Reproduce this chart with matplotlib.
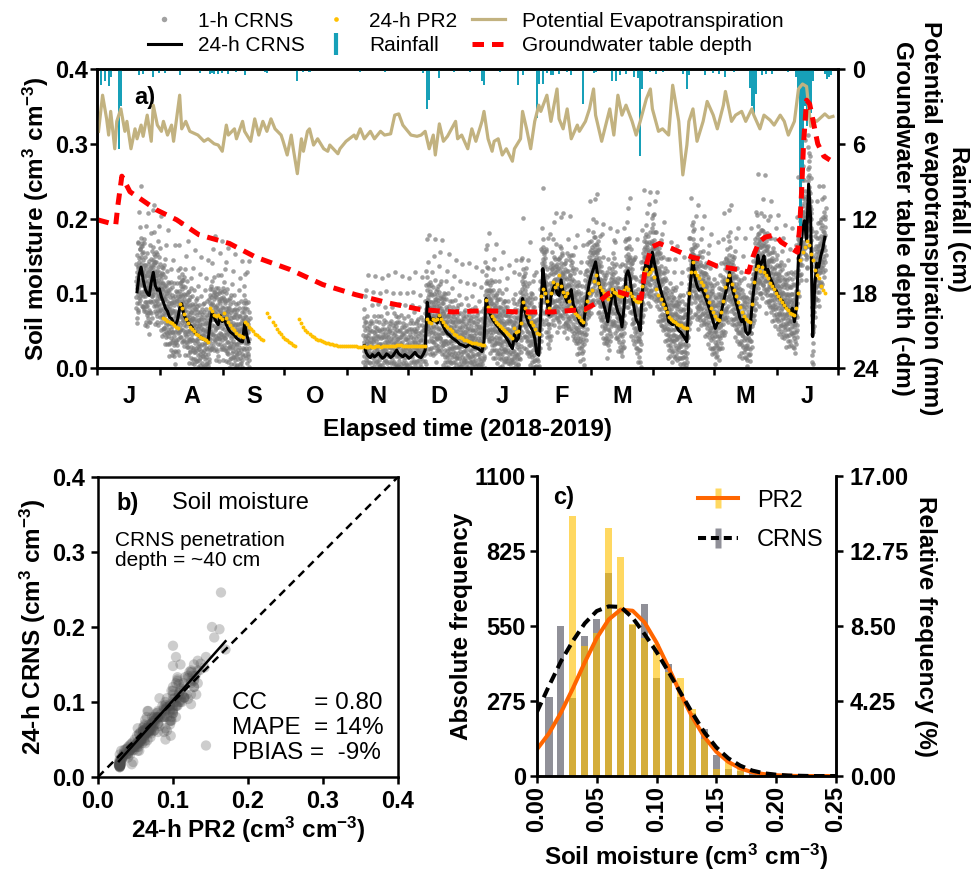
import numpy as np
import pandas as pd
import matplotlib
matplotlib.use("Agg")
import matplotlib.pyplot as plt
import matplotlib.dates as mdates
from matplotlib.lines import Line2D
from matplotlib.ticker import FixedLocator, FixedFormatter, NullFormatter, FormatStrFormatter
from matplotlib.legend_handler import HandlerTuple

plt.rcParams['font.family'] = ['Liberation Sans', 'DejaVu Sans']
plt.rcParams['font.weight'] = 'bold'
plt.rcParams['mathtext.fontset'] = 'custom'
plt.rcParams['mathtext.rm'] = 'Liberation Sans'
plt.rcParams['mathtext.bf'] = 'Liberation Sans:bold'
plt.rcParams['mathtext.default'] = 'regular'

# ---------------- data ----------------
START = "2018-07-01"
END = "2019-07-01"
month_labels = ['J', 'A', 'S', 'O', 'N', 'D', 'J', 'F', 'M', 'A', 'M', 'J']

# 24-h CRNS soil moisture (days since 1 July 2018)
crns24_a_start = 19
crns24_a = [0.102, 0.125, 0.135, 0.118, 0.106, 0.100, 0.097, 0.115, 0.128, 0.110,
            0.104, 0.106, 0.095, 0.088, 0.080, 0.076, 0.068, 0.066, 0.060, 0.057,
            0.065, 0.080, 0.086, 0.072, 0.066, 0.062, 0.058, 0.055, 0.050, 0.046,
            0.044, 0.042, 0.040, 0.038, 0.037, 0.036, 0.060, 0.075, 0.068, 0.062,
            0.058, 0.070, 0.062, 0.066, 0.058, 0.052, 0.048, 0.046, 0.044, 0.040,
            0.038, 0.036, 0.035, 0.060, 0.045, 0.035]
crns24_b_start = 131
crns24_b = [0.030, 0.020, 0.016, 0.014, 0.018, 0.015, 0.017, 0.020, 0.016, 0.013,
            0.015, 0.019, 0.017, 0.014, 0.016, 0.020, 0.024, 0.019, 0.017, 0.015,
            0.018, 0.016, 0.013, 0.015, 0.018, 0.021, 0.017, 0.015, 0.014, 0.018,
            0.024, 0.088, 0.070, 0.062, 0.066, 0.064, 0.060, 0.071, 0.063, 0.055,
            0.050, 0.046, 0.044, 0.041, 0.039, 0.037, 0.035, 0.032, 0.031, 0.030,
            0.028, 0.030, 0.032, 0.030, 0.028, 0.027, 0.026, 0.024, 0.022, 0.035,
            0.093, 0.080, 0.072, 0.066, 0.062, 0.058, 0.055, 0.050, 0.047, 0.044,
            0.040, 0.036, 0.030, 0.026, 0.045, 0.036, 0.040, 0.060, 0.093, 0.078,
            0.068, 0.060, 0.055, 0.050, 0.040, 0.020, 0.017, 0.075, 0.133, 0.110,
            0.090, 0.071, 0.095, 0.106, 0.112, 0.100, 0.097, 0.118, 0.100, 0.095,
            0.088, 0.096, 0.105, 0.085, 0.078, 0.070, 0.062, 0.058, 0.056, 0.080,
            0.100, 0.115, 0.125, 0.133, 0.142, 0.125, 0.110, 0.095, 0.085, 0.075,
            0.062, 0.080, 0.095, 0.105, 0.085, 0.075, 0.070, 0.055, 0.080, 0.124,
            0.130, 0.120, 0.095, 0.080, 0.065, 0.060, 0.050, 0.100, 0.130, 0.142,
            0.135, 0.128, 0.155, 0.140, 0.128, 0.115, 0.105, 0.095, 0.088, 0.080,
            0.062, 0.060, 0.058, 0.062, 0.055, 0.050, 0.048, 0.044, 0.040, 0.035,
            0.090, 0.120, 0.146, 0.120, 0.110, 0.104, 0.106, 0.103, 0.095, 0.088,
            0.080, 0.071, 0.062, 0.053, 0.060, 0.062, 0.075, 0.088, 0.100, 0.110,
            0.128, 0.110, 0.100, 0.090, 0.080, 0.068, 0.062, 0.066, 0.049, 0.045,
            0.048, 0.080, 0.106, 0.125, 0.151, 0.135, 0.142, 0.150, 0.125, 0.132,
            0.120, 0.115, 0.106, 0.104, 0.097, 0.092, 0.090, 0.084, 0.080, 0.078,
            0.075, 0.080, 0.062, 0.080, 0.148, 0.160, 0.186, 0.197, 0.170, 0.246,
            0.200, 0.042, 0.110, 0.140, 0.135, 0.150, 0.160, 0.175]

# hourly CRNS deviations from the 24-h value (read as typical scatter)
crns1h_dev = [0.012, -0.018, 0.031, -0.006, 0.022, -0.029, 0.004, 0.041, -0.012, -0.035,
              0.017, 0.008, -0.022, 0.055, -0.003, 0.026, -0.015, -0.040, 0.010, 0.035,
              -0.008, 0.019, -0.026, 0.002, 0.070, -0.019, 0.014, -0.032, 0.028, -0.010,
              0.006, -0.024, 0.045, -0.001, 0.020, -0.037, 0.011, -0.014, 0.024, 0.090,
              -0.028, 0.003, 0.033, -0.020, 0.016, -0.007, -0.043, 0.027, 0.009, -0.016,
              0.038, -0.030, 0.005]
n_hourly_per_day = 16

# 24-h PR2 soil moisture
nan = np.nan
pr2_start = 32
pr2_24h = [0.067, 0.065, 0.063, 0.062, 0.060, 0.057, 0.055, 0.053, 0.086, 0.080,
           0.072, 0.066, 0.060, 0.055, 0.052, 0.049, 0.046, 0.044, 0.042, 0.040,
           0.039, 0.037, 0.035, 0.080, 0.076, 0.071, 0.070, 0.071, 0.068, 0.066,
           0.073, 0.067, 0.062, 0.058, 0.054, 0.051, 0.047, 0.044, 0.043, 0.042,
           0.062, 0.059, 0.055, 0.052, 0.049, 0.046, 0.044, 0.041, 0.039, 0.037,
           nan, 0.074, 0.068, nan, 0.062, 0.057, 0.052, 0.048, 0.045, 0.042,
           0.039, 0.037, 0.035, 0.033, 0.031, 0.029, nan, 0.066, 0.060, 0.055,
           0.051, 0.048, 0.045, 0.043, 0.041, 0.039, 0.038, 0.037, 0.036, 0.035,
           0.034, 0.033, 0.032, 0.032, 0.031, 0.031, 0.030, 0.030, 0.030, 0.030,
           0.029, 0.029, 0.029, 0.029, 0.029, 0.029, 0.028, 0.028, 0.028, 0.029,
           0.028, 0.028, 0.029, 0.028, 0.028, 0.029, 0.029, 0.028, 0.029, 0.029,
           0.029, 0.030, 0.029, 0.029, 0.030, 0.031, 0.031, 0.031, 0.030, 0.030,
           0.029, 0.029, 0.029, 0.029, 0.029, 0.029, 0.029, 0.029, 0.029, 0.029,
           0.066, 0.062, 0.060, 0.065, 0.064, 0.066, 0.071, 0.066, 0.062, 0.058,
           0.055, 0.052, 0.049, 0.046, 0.044, 0.042, 0.041, 0.040, 0.038, 0.037,
           0.036, 0.035, 0.034, 0.033, 0.033, 0.032, 0.032, 0.031, 0.031, 0.091,
           0.082, 0.076, 0.070, 0.066, 0.062, 0.059, 0.056, 0.053, 0.051, 0.048,
           0.046, 0.043, 0.040, 0.053, 0.048, 0.050, 0.060, 0.088, 0.080, 0.074,
           0.068, 0.062, 0.057, 0.052, 0.047, 0.045, 0.097, 0.106, 0.100, 0.090,
           0.080, 0.100, 0.115, 0.108, 0.112, 0.124, 0.110, 0.102, 0.096, 0.100,
           0.090, 0.082, 0.078, 0.074, 0.071, 0.068, 0.064, 0.062, 0.078, 0.090,
           0.100, 0.104, 0.116, 0.124, 0.114, 0.108, 0.104, 0.100, 0.096, 0.092,
           0.098, 0.106, 0.102, 0.100, 0.098, 0.096, 0.097, 0.104, 0.108, 0.106,
           0.100, 0.096, 0.092, 0.090, 0.088, 0.090, 0.110, 0.128, 0.133, 0.126,
           0.128, 0.133, 0.122, 0.106, 0.098, 0.092, 0.086, 0.080, 0.075, 0.068,
           0.066, 0.063, 0.061, 0.059, 0.058, 0.057, 0.055, 0.054, 0.053, 0.100,
           0.128, 0.142, 0.128, 0.124, 0.120, 0.115, 0.111, 0.105, 0.096, 0.088,
           0.080, 0.075, 0.070, 0.066, 0.064, 0.075, 0.090, 0.108, 0.118, 0.124,
           0.112, 0.104, 0.096, 0.089, 0.082, 0.075, 0.070, 0.066, 0.063, 0.062,
           0.085, 0.115, 0.133, 0.137, 0.130, 0.135, 0.128, 0.124, 0.120, 0.114,
           0.110, 0.106, 0.100, 0.096, 0.092, 0.088, 0.084, 0.080, 0.077, 0.074,
           0.072, 0.071, 0.080, 0.100, 0.144, 0.155, 0.162, 0.170, 0.164, 0.152,
           0.144, 0.131, 0.125, 0.120, 0.110, 0.104, 0.100]

# Potential evapotranspiration (mm), read at these days
pet_days = [0, 2, 4, 5, 6, 8, 9, 11, 13, 14, 16, 18, 19, 21, 22, 24, 26, 27, 29, 31,
            32, 34, 36, 37, 40, 41, 43, 45, 49, 52, 54, 57, 59, 61, 63, 64, 67, 68, 71, 72,
            75, 77, 79, 81, 83, 85, 87, 90, 91, 93, 95, 96, 98, 100, 101, 103, 104, 106, 108, 111,
            113, 114, 118, 119, 122, 126, 127, 129, 131, 134, 136, 139, 141, 144, 146, 148, 150, 154, 157, 159,
            161, 163, 165, 166, 168, 170, 172, 174, 176, 177, 179, 182, 184, 186, 189, 190, 192, 194, 195, 197,
            199, 201, 204, 205, 208, 209, 211, 213, 215, 217, 218, 221, 223, 226, 227, 229, 231, 233, 236, 237,
            240, 242, 244, 245, 248, 250, 252, 254, 256, 258, 260, 263, 265, 267, 270, 272, 273, 276, 278, 281,
            283, 286, 288, 290, 291, 293, 295, 298, 300, 303, 305, 308, 309, 312, 314, 317, 319, 322, 323, 326,
            328, 331, 333, 336, 338, 340, 343, 345, 347, 349, 350, 351, 352, 354, 356, 358, 360, 362]
pet_mm = [5.0, 2.1, 4.0, 5.3, 3.4, 6.4, 4.2, 3.2, 5.0, 4.2, 6.4, 4.8, 5.6, 4.5, 5.4, 3.7, 5.8, 2.9, 4.5, 5.0,
          4.2, 5.3, 4.5, 5.8, 2.1, 4.8, 4.2, 5.0, 5.3, 5.8, 5.6, 6.0, 6.1, 6.6, 4.5, 5.3, 4.8, 5.6, 4.2, 5.0,
          5.8, 4.0, 5.3, 4.2, 5.0, 4.0, 4.8, 5.3, 5.8, 6.9, 5.3, 6.4, 8.4, 5.6, 6.6, 5.0, 4.8, 6.1, 5.6, 6.4,
          6.6, 6.1, 6.8, 6.4, 5.8, 5.3, 5.6, 4.8, 5.6, 5.0, 5.6, 5.0, 5.3, 5.2, 3.7, 3.6, 4.5, 5.3, 5.4, 5.3,
          5.0, 6.4, 5.3, 6.9, 4.4, 5.8, 5.4, 4.8, 4.2, 5.6, 5.3, 6.4, 4.8, 5.8, 4.2, 3.4, 5.6, 6.6, 5.8, 5.6,
          6.9, 6.4, 7.4, 6.4, 5.6, 3.4, 4.8, 6.4, 4.2, 2.9, 3.4, 2.1, 4.2, 1.6, 4.0, 4.8, 3.2, 5.6, 4.5, 5.0,
          4.2, 3.2, 1.6, 3.7, 5.8, 4.5, 3.2, 5.3, 2.1, 3.7, 2.9, 4.2, 5.3, 4.2, 2.4, 1.6, 3.2, 5.0, 4.8, 5.3,
          1.3, 4.2, 8.5, 6.1, 4.2, 3.2, 5.8, 4.2, 2.6, 3.7, 4.8, 2.9, 1.8, 4.2, 3.7, 3.4, 4.2, 3.2, 3.7, 4.8,
          3.7, 4.1, 4.5, 3.7, 4.2, 5.3, 4.2, 1.6, 1.2, 1.4, 3.0, 4.6, 4.0, 4.2, 3.9, 3.6, 3.9, 3.8]

# Groundwater table depth (-dm)
gw_days = [0, 9, 10, 12, 16, 21, 29, 39, 50, 65, 78, 95, 111, 127, 144, 159, 175, 191, 208, 224,
           240, 247, 252, 257, 265, 268, 270, 273, 277, 283, 290, 293, 298, 305, 316, 321, 323, 326, 329, 334,
           337, 342, 345, 346, 347, 348, 349.5, 351, 353, 355, 358, 361]
gw_dm = [12.1, 12.5, 11.0, 8.6, 9.85, 10.4, 11.3, 12.1, 13.3, 14.0, 15.1, 16.1, 17.3, 18.1, 18.8, 19.3, 19.5, 19.4, 19.5, 19.5,
         19.3, 18.7, 18.0, 17.9, 18.3, 18.4, 16.0, 14.3, 14.0, 14.4, 14.9, 15.1, 15.3, 15.8, 16.1, 16.3, 15.1, 13.9, 13.5, 13.3,
         13.9, 14.4, 14.7, 12.9, 10.0, 6.0, 2.5, 2.8, 4.4, 6.0, 7.0, 7.3]

# Rainfall (cm)
rain_days = [1, 3, 5, 6, 10, 11, 20, 22, 27, 30, 33, 40, 50, 55, 56, 57, 59, 61, 64, 68,
             72, 82, 83, 98, 101, 104, 129, 141, 160, 162, 163, 168, 175, 183, 189, 190, 198, 207, 209, 216,
             217, 219, 221, 223, 224, 227, 231, 233, 239, 244, 245, 253, 255, 257, 260, 264, 266, 267, 268, 272,
             275, 278, 288, 290, 291, 299, 303, 306, 309, 313, 321, 322, 323, 324, 327, 329, 332, 340, 344, 345,
             346, 347, 348, 349, 350, 351, 352, 358, 359, 360, 361]
rain_cm = [1.3, 1.0, 1.4, 0.6, 6.4, 3.0, 0.5, 0.4, 0.6, 0.3, 0.3, 0.5, 0.3, 0.4, 0.3, 0.4, 0.4, 0.3, 0.4, 0.2,
           0.5, 0.2, 0.3, 1.0, 0.2, 0.2, 0.2, 0.2, 0.3, 3.2, 2.5, 0.75, 0.2, 0.2, 1.0, 1.3, 0.2, 1.3, 0.5, 3.9,
           1.2, 1.2, 0.3, 0.5, 0.5, 0.4, 0.2, 0.5, 2.8, 0.3, 0.2, 1.0, 1.0, 0.5, 0.4, 0.6, 0.7, 7.0, 1.6, 0.2,
           0.4, 0.2, 0.4, 1.6, 0.5, 0.5, 0.3, 0.4, 0.6, 0.2, 1.5, 3.0, 3.8, 2.0, 0.5, 0.4, 0.4, 0.2, 0.6, 1.5,
           13.5, 9.0, 3.0, 4.6, 2.5, 3.5, 1.0, 0.4, 0.8, 0.6, 0.5]

# Histograms (panel c)
hist_sm = [0.01, 0.02, 0.03, 0.04, 0.05, 0.06, 0.07, 0.08, 0.09, 0.10, 0.11, 0.12, 0.13,
           0.14, 0.15, 0.16, 0.17, 0.18, 0.19, 0.20, 0.21, 0.22, 0.23, 0.24, 0.25]
hist_crns = [290, 550, 287, 513, 574, 745, 611, 552, 629, 360, 409, 290, 230,
             174, 76, 24, 18, 12, 6, 8, 6, 4, 6, 6, 2]
hist_pr2 = [0, 0, 953, 477, 525, 908, 804, 558, 507, 483, 380, 360, 244,
            134, 27, 51, 30, 5, 0, 0, 0, 0, 0, 0, 0]
curve_sm = [0.00, 0.01, 0.02, 0.03, 0.04, 0.05, 0.06, 0.07, 0.08, 0.09, 0.10, 0.11, 0.12,
            0.13, 0.14, 0.15, 0.16, 0.17, 0.18, 0.19, 0.20, 0.21, 0.22, 0.23, 0.24, 0.25]
curve_pr2 = [98, 156, 232, 321, 417, 506, 574, 610, 606, 563, 489, 398, 302,
             215, 143, 89, 52, 28, 14, 7, 3, 1, 0, 0, 0, 0]
curve_crns = [235, 330, 420, 495, 560, 605, 622, 620, 580, 520, 455, 382, 306,
              230, 160, 105, 65, 38, 20, 10, 5, 2, 1, 0, 0, 0]
abs_max = 1100
rel_max = 17.0

# Panel b statistics / fit
fit_slope = 1.126
fit_intercept = -0.0104
one_to_one = [0.0, 0.4]
stats_text = "CC       = 0.80\nMAPE  = 14%\nPBIAS =  -9%"

# ---------------- colours ----------------
C_GREY = '#7a7a7a'
C_GOLD = '#FFC000'
C_PET = '#C2B280'
C_RAIN = '#17A0B8'
C_GW = '#FF0000'

# ---------------- figure ----------------
fig = plt.figure(figsize=(9.74, 8.75), dpi=100)
X0 = mdates.date2num(pd.Timestamp(START))
X1 = mdates.date2num(pd.Timestamp(END))

TICK_FS = 17
LABEL_FS = 17.5

ax = fig.add_axes([0.1001, 0.5794, 0.7603, 0.3417])
ax2 = ax.twinx()

# hourly CRNS cloud
dev = np.array(crns1h_dev)
for s, vals in ((crns24_a_start, crns24_a), (crns24_b_start, crns24_b)):
    v = np.array(vals)
    n = len(v)
    xh = X0 + s + np.repeat(np.arange(n), n_hourly_per_day) + np.tile(np.arange(n_hourly_per_day) / n_hourly_per_day, n)
    yh = np.repeat(v, n_hourly_per_day) + dev[np.arange(n * n_hourly_per_day) % len(dev)] * 1.2
    h1, = ax.plot(xh, yh, 'o', ms=3.3, color=C_GREY, alpha=0.7, mec='none', label='1-h CRNS')

for s, vals in ((crns24_a_start, crns24_a), (crns24_b_start, crns24_b)):
    v = np.array(vals)
    h24, = ax.plot(X0 + s + np.arange(len(v)) + 0.5, v, '-', color='black', lw=2.2, label='24-h CRNS')

pr2 = np.array(pr2_24h)
hpr2, = ax.plot(X0 + pr2_start + np.arange(len(pr2)) + 0.5, pr2, 'o', ms=2.8, color=C_GOLD, mec='none',
                label='24-h PR2')

ax.set_ylim(0, 0.4)
ax.set_xlim(X0, X1)
ax.set_yticks([0.0, 0.1, 0.2, 0.3, 0.4])
ax.yaxis.set_major_formatter(FormatStrFormatter('%.1f'))

month_starts = mdates.date2num(pd.date_range(START, END, freq='MS'))
month_mids = (month_starts[:-1] + month_starts[1:]) / 2
ax.xaxis.set_major_locator(FixedLocator(month_starts))
ax.xaxis.set_major_formatter(NullFormatter())
ax.xaxis.set_minor_locator(FixedLocator(month_mids))
ax.xaxis.set_minor_formatter(FixedFormatter(month_labels))
ax.tick_params(axis='x', which='minor', length=0, pad=12, labelsize=TICK_FS)
ax.tick_params(axis='x', which='major', length=5, width=1.8, direction='out')
ax.tick_params(axis='y', length=5, width=1.8, direction='out', pad=2, labelsize=TICK_FS)

# right axis: rainfall, PET, groundwater
hpet, = ax2.plot(X0 + np.array(pet_days) + 0.5, pet_mm, '-', color=C_PET, lw=2.3,
                 label='Potential Evapotranspiration')
ax2.bar(X0 + np.array(rain_days), rain_cm, width=1.0, align='edge', color=C_RAIN, lw=0)
hgw, = ax2.plot(X0 + np.array(gw_days), gw_dm, '--', color=C_GW, lw=3.6, dashes=(2.3, 1.6),
                label='Groundwater table depth')
ax2.set_ylim(24, 0)
ax2.set_yticks([0, 6, 12, 18, 24])
ax2.tick_params(axis='y', length=5, width=1.8, direction='out', pad=5, labelsize=TICK_FS)
ax2.set_xlim(X0, X1)

for a in (ax, ax2):
    for sp in a.spines.values():
        sp.set_linewidth(1.8)

ax.set_ylabel('Soil moisture (cm$^{3}$ cm$^{-3}$)', fontsize=LABEL_FS, fontweight='bold', va='center')
ax.yaxis.set_label_coords(-0.083, 0.5)
ax.set_xlabel('Elapsed time (2018-2019)', fontsize=LABEL_FS, fontweight='bold', va='center')
ax.xaxis.set_label_coords(0.5, -0.207)
ax2.set_ylabel('Rainfall (cm)\nPotential evapotranspiration (mm)\nGroundwater table depth (-dm)',
               rotation=270, fontsize=LABEL_FS, fontweight='bold', va='center', ha='center',
               multialignment='center', linespacing=1.3)
ax2.yaxis.set_label_coords(1.125, 0.5)
ax.text(0.049, 0.906, 'a)', transform=ax.transAxes, fontsize=17, fontweight='bold', va='center')

rain_proxy = Line2D([], [], ls='none', marker='|', ms=13, mew=3, color=C_RAIN)
fig.legend([h1, h24, hpr2, rain_proxy, hpet, hgw],
           ['1-h CRNS', '24-h CRNS', '24-h PR2', 'Rainfall', 'Potential Evapotranspiration',
            'Groundwater table depth'],
           ncol=3, loc='upper center', bbox_to_anchor=(0.478, 1.008), frameon=False,
           prop={'weight': 'normal', 'size': 15}, handlelength=1.6, handletextpad=0.8,
           columnspacing=0.7, labelspacing=0.25, markerscale=1.2)

# ---------------- panel b ----------------
axb = fig.add_axes([0.1006, 0.112, 0.308, 0.3429])
crns_full = np.full(366, np.nan)
crns_full[crns24_a_start:crns24_a_start + len(crns24_a)] = crns24_a
crns_full[crns24_b_start:crns24_b_start + len(crns24_b)] = crns24_b
pr2_full = np.full(366, np.nan)
pr2_full[pr2_start:pr2_start + len(pr2)] = pr2
m = np.isfinite(crns_full) & np.isfinite(pr2_full)
axb.scatter(pr2_full[m], crns_full[m], s=55, color='#4d4d4d', alpha=0.28, edgecolors='none')
axb.plot(one_to_one, one_to_one, '--', color='black', lw=1.8, dashes=(3.2, 2.2))
fx = np.array([pr2_full[m].min(), pr2_full[m].max()])
axb.plot(fx, fit_intercept + fit_slope * fx, '-', color='black', lw=1.8)
axb.set_xlim(0, 0.4)
axb.set_ylim(0, 0.4)
axb.set_xticks([0.0, 0.1, 0.2, 0.3, 0.4])
axb.set_yticks([0.0, 0.1, 0.2, 0.3, 0.4])
axb.xaxis.set_major_formatter(FormatStrFormatter('%.1f'))
axb.yaxis.set_major_formatter(FormatStrFormatter('%.1f'))
axb.tick_params(length=5, width=1.8, direction='out', pad=4, labelsize=TICK_FS)
for sp in axb.spines.values():
    sp.set_linewidth(1.8)
axb.set_xlabel('24-h PR2 (cm$^{3}$ cm$^{-3}$)', fontsize=LABEL_FS, fontweight='bold', va='center')
axb.xaxis.set_label_coords(0.5, -0.177)
axb.set_ylabel('24-h CRNS (cm$^{3}$ cm$^{-3}$)', fontsize=LABEL_FS, fontweight='bold', va='center')
axb.yaxis.set_label_coords(-0.217, 0.5)
axb.text(0.063, 0.913, 'b)', transform=axb.transAxes, fontsize=17, fontweight='bold', va='center')
axb.text(0.247, 0.913, 'Soil moisture', transform=axb.transAxes, fontsize=17, fontweight='normal', va='center')
axb.text(0.057, 0.82, 'CRNS penetration\ndepth = ~40 cm', transform=axb.transAxes, fontsize=15,
         fontweight='normal', va='top', linespacing=1.1)
axb.text(0.447, 0.163, stats_text, transform=axb.transAxes, fontsize=17.5, fontweight='normal',
         va='center', linespacing=1.2)

# ---------------- panel c ----------------
axc = fig.add_axes([0.5513, 0.1131, 0.307, 0.3429])
axc.bar(hist_sm, hist_crns, width=0.006, color='#7d7d86', alpha=0.85, lw=0)
axc.bar(hist_sm, hist_pr2, width=0.006, color=C_GOLD, alpha=0.62, lw=0)
axc.plot(curve_sm, curve_pr2, '-', color='#FF6600', lw=2.9)
axc.plot(curve_sm, curve_crns, '--', color='black', lw=2.9, dashes=(2.6, 1.4))
axc.set_xlim(0, 0.25)
axc.set_ylim(0, abs_max)
axc.set_yticks([0, 275, 550, 825, 1100])
axc.set_xticks([0.00, 0.05, 0.10, 0.15, 0.20, 0.25])
axc.xaxis.set_major_formatter(FormatStrFormatter('%.2f'))
axc.tick_params(axis='x', rotation=90, length=5, width=1.8, direction='out', pad=2, labelsize=TICK_FS)
axc.tick_params(axis='y', length=5, width=1.8, direction='out', pad=3, labelsize=TICK_FS)
axc.spines['top'].set_visible(False)
for k in ('left', 'bottom', 'right'):
    axc.spines[k].set_linewidth(1.8)
axc2 = axc.twinx()
axc2.set_ylim(0, rel_max)
axc2.set_yticks([0, 4.25, 8.5, 12.75, 17.0])
axc2.yaxis.set_major_formatter(FormatStrFormatter('%.2f'))
axc2.tick_params(axis='y', length=5, width=1.8, direction='out', pad=5, labelsize=TICK_FS)
axc2.spines['top'].set_visible(False)
for k in ('left', 'bottom', 'right'):
    axc2.spines[k].set_linewidth(1.8)
axc.set_xlabel('Soil moisture (cm$^{3}$ cm$^{-3}$)', fontsize=LABEL_FS, fontweight='bold', va='center')
axc.xaxis.set_label_coords(0.5, -0.27)
axc.set_ylabel('Absolute frequency', fontsize=LABEL_FS, fontweight='bold', va='center')
axc.yaxis.set_label_coords(-0.251, 0.5)
axc2.set_ylabel('Relative frequency (%)', rotation=270, fontsize=LABEL_FS, fontweight='bold',
                va='center', ha='center')
axc2.yaxis.set_label_coords(1.298, 0.5)
axc.text(0.055, 0.927, 'c)', transform=axc.transAxes, fontsize=17, fontweight='bold', va='center')

bar_marker = [(-0.32, -1), (0.32, -1), (0.32, 1), (-0.32, 1), (-0.32, -1)]
pr2_bar = Line2D([], [], ls='none', marker=bar_marker, ms=14, color=C_GOLD, alpha=0.62, mec='none')
pr2_line = Line2D([], [], color='#FF6600', lw=2.9)
crns_bar = Line2D([], [], ls='none', marker=bar_marker, ms=14, color='#7d7d86', alpha=0.85, mec='none')
crns_line = Line2D([], [], color='black', lw=2.9, ls='--', dashes=(2.0, 1.2))
axc.legend([(pr2_bar, pr2_line), (crns_bar, crns_line)], ['PR2', 'CRNS'],
           handler_map={tuple: HandlerTuple(ndivide=1)}, loc='upper right',
           bbox_to_anchor=(1.03, 1.025), frameon=False, prop={'weight': 'normal', 'size': 17},
           handlelength=1.7, handletextpad=0.8, labelspacing=0.75)

fig.savefig('out.png', dpi=100)
